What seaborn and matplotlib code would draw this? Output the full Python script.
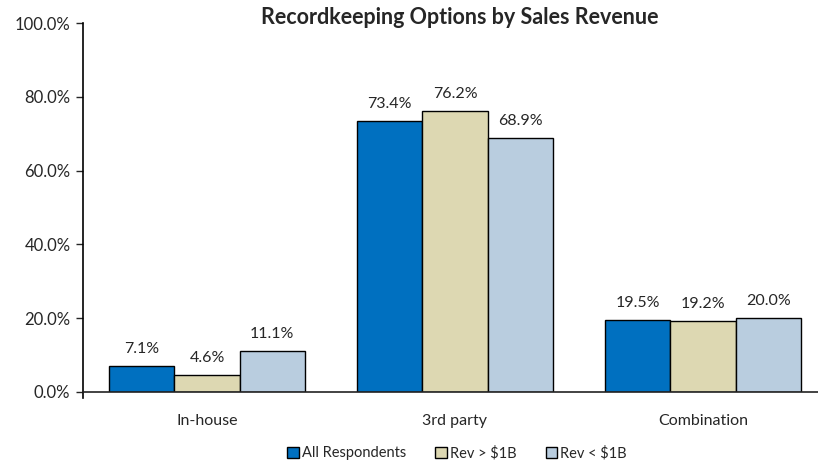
import matplotlib
matplotlib.use("Agg")
import matplotlib.pyplot as plt
import seaborn as sns
import pandas as pd
from matplotlib.ticker import FuncFormatter

categories = ["In-house", "3rd party", "Combination"]
series_names = ["All Respondents", "Rev > $1B", "Rev < $1B"]
all_respondents = [7.1, 73.4, 19.5]
rev_over_1b = [4.6, 76.2, 19.2]
rev_under_1b = [11.1, 68.9, 20.0]
y_ticks = [0, 20, 40, 60, 80, 100]

rows = []
for name, vals in zip(series_names, [all_respondents, rev_over_1b, rev_under_1b]):
    for cat, v in zip(categories, vals):
        rows.append({"Option": cat, "Group": name, "Share": v})
df = pd.DataFrame(rows)

sns.set_style("white")
plt.rcParams["font.family"] = ["Lato", "DejaVu Sans"]

W, H = 818, 463
fig = plt.figure(figsize=(W / 100, H / 100), dpi=100)
ax = fig.add_axes([83 / W, (H - 392) / H, (827 - 83) / W, (392 - 23) / H])

palette = ["#0070C0", "#DDD8B2", "#B9CDDF"]
sns.barplot(data=df, x="Option", y="Share", hue="Group", palette=palette,
            width=0.79, edgecolor="black", linewidth=1.0, saturation=1,
            ax=ax, legend=True)

for cont in ax.containers:
    ax.bar_label(cont, fmt="%.1f%%", padding=7, fontsize=11.5)

ax.set_xlim(-0.5, 2.5)
ax.set_ylim(0, 100)
ax.set_yticks(y_ticks)
ax.yaxis.set_major_formatter(FuncFormatter(lambda v, p: f"{v:.1f}%"))
ax.set_xlabel("")
ax.set_ylabel("")
ax.tick_params(axis="y", left=True, length=5, width=1, labelsize=12, pad=4)
ax.tick_params(axis="x", bottom=False, labelsize=11.5, pad=12)
for s in ["top", "right"]:
    ax.spines[s].set_visible(False)
ax.spines["left"].set_color("black")
ax.spines["bottom"].set_color("#222222")
ax.spines["left"].set_linewidth(1.2)
ax.spines["bottom"].set_linewidth(1.2)
ax.spines["left"].set_bounds(-1.5, 100)
ax.spines["left"].set_clip_on(False)

fig.text(460 / W, 1 - 18 / H, "Recordkeeping Options by Sales Revenue",
         ha="center", va="center", fontsize=15.5, fontweight="bold")

handles, labels = ax.get_legend_handles_labels()
ax.legend(handles, labels, loc="center", bbox_to_anchor=(457 / W, 1 - 453 / H),
          bbox_transform=fig.transFigure, ncol=3, frameon=False, fontsize=10.5,
          handlelength=0.8, handleheight=0.8, handletextpad=0.2, columnspacing=2.0)

fig.savefig("out.png", dpi=100)
